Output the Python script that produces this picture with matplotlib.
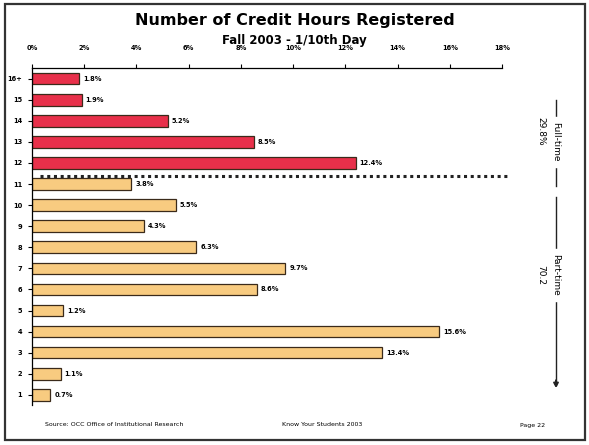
import matplotlib
matplotlib.use("Agg")
import matplotlib.pyplot as plt
from matplotlib.patches import Rectangle

categories = ["16+", "15", "14", "13", "12", "11", "10", "9", "8", "7", "6", "5", "4", "3", "2", "1"]
values = [1.8, 1.9, 5.2, 8.5, 12.4, 3.8, 5.5, 4.3, 6.3, 9.7, 8.6, 1.2, 15.6, 13.4, 1.1, 0.7]
groups = ["full", "full", "full", "full", "full", "part", "part", "part", "part", "part", "part", "part", "part", "part", "part", "part"]
xticks = [0, 2, 4, 6, 8, 10, 12, 14, 16, 18]
title = "Number of Credit Hours Registered"
subtitle = "Fall 2003 - 1/10th Day"
full_label, full_pct = "Full-time", "29.8%"
part_label, part_pct = "Part-time", "70.2"

colors = {"full": "#E8304A", "part": "#F8CB80"}

fig = plt.figure(figsize=(5.89, 4.45), dpi=100)
fig.patch.set_facecolor("white")
# frame
fig.patches.append(Rectangle((0.009, 0.012), 0.985, 0.978, transform=fig.transFigure,
                             fill=False, edgecolor="#333333", linewidth=1.6))

ax = fig.add_axes([0.0543, 0.089, 0.798, 0.758])
n = len(categories)
ypos = [n - 1 - i for i in range(n)]
ax.barh(ypos, values, height=0.55, color=[colors[g] for g in groups],
        edgecolor="#3a2a1a", linewidth=0.9)
for y, v in zip(ypos, values):
    ax.text(v + 0.15, y, f"{v:.1f}%", va="center", ha="left", fontsize=4.8, fontweight="bold")

ax.set_xlim(0, 18)
ax.set_ylim(-0.5, n - 0.5)
ax.set_yticks(ypos)
ax.set_yticklabels(categories, fontsize=4.8, fontweight="bold")
ax.xaxis.tick_top()
ax.set_xticks(xticks)
ax.set_xticklabels([f"{t}%" for t in xticks], fontsize=4.8, fontweight="bold")
ax.tick_params(axis="x", length=3, width=0.8, pad=9)
ax.tick_params(axis="y", length=3, width=0.8, pad=4)
for s in ["right", "bottom"]:
    ax.spines[s].set_visible(False)
ax.spines["top"].set_linewidth(0.9)
ax.spines["left"].set_linewidth(0.9)

# dotted divider between full-time and part-time
div_y = ypos[5] + 0.36
ax.plot([0.3, 18.3], [div_y, div_y], linestyle=(0, (1, 1.2)), color="#222222",
        linewidth=2.2, clip_on=False)

fig.text(0.5, 0.955, title, ha="center", va="center", fontsize=11.5, fontweight="bold")
fig.text(0.5, 0.910, subtitle, ha="center", va="center", fontsize=8.5, fontweight="bold")

# right brackets
def px2fy(py):
    return 1 - py / 445.0
xl = 556 / 589.0
fig.add_artist(plt.Line2D([xl, xl], [px2fy(100), px2fy(186)], transform=fig.transFigure,
                          color="#222222", linewidth=1.0))
fig.text(xl, px2fy(142), full_label, rotation=-90, ha="center", va="center", fontsize=6.5,
         backgroundcolor="white")
fig.text(541 / 589.0, px2fy(131), full_pct, rotation=-90, ha="center", va="center", fontsize=6.5)
fig.add_artist(plt.Line2D([xl, xl], [px2fy(197), px2fy(385)], transform=fig.transFigure,
                          color="#222222", linewidth=1.0))
fig.patches.append(matplotlib.patches.FancyArrow(xl, px2fy(380), 0, -0.005, width=0.001,
                   head_width=0.008, head_length=0.01, transform=fig.transFigure, color="#222222"))
fig.text(xl, px2fy(275), part_label, rotation=-90, ha="center", va="center", fontsize=6.5,
         backgroundcolor="white")
fig.text(541 / 589.0, px2fy(275), part_pct, rotation=-90, ha="center", va="center", fontsize=6.5)

fig.text(45 / 589.0, px2fy(425), "Source: OCC Office of Institutional Research", ha="left",
         va="center", fontsize=4.5)
fig.text(322 / 589.0, px2fy(425), "Know Your Students 2003", ha="center", va="center", fontsize=4.5)
fig.text(520 / 589.0, px2fy(425), "Page 22", ha="left", va="center", fontsize=4.5)

fig.savefig("out.png", dpi=100)
